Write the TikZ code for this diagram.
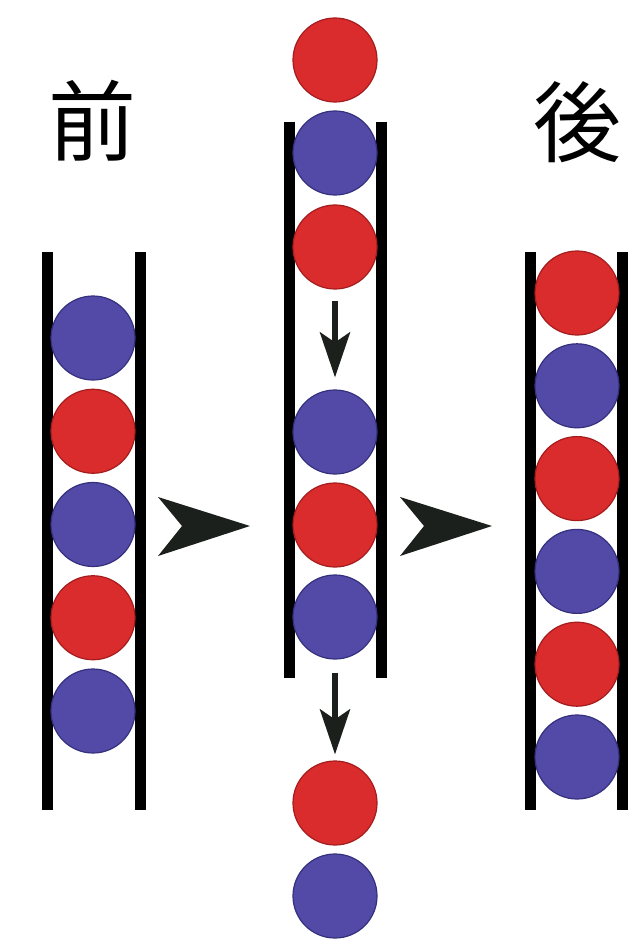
\documentclass[tikz,border=0pt]{standalone}
\usepackage{fontspec}
\newfontfamily\jpfont{Noto Sans CJK JP}
\usetikzlibrary{arrows.meta}
\definecolor{ballR}{RGB}{218,44,44}
\definecolor{ballRd}{RGB}{165,28,30}
\definecolor{ballB}{RGB}{82,74,166}
\definecolor{ballBd}{RGB}{52,48,125}
\definecolor{arrK}{RGB}{28,32,28}
\tikzset{
  rball/.style={circle,fill=ballR,draw=ballRd,line width=1.2pt,minimum size=84pt,inner sep=0pt},
  bball/.style={circle,fill=ballB,draw=ballBd,line width=1.2pt,minimum size=84pt,inner sep=0pt},
  wall/.style={line width=11pt,black},
  dn/.style={-{Stealth[length=45pt,width=30pt,inset=10pt]},line width=6pt,arrK},
  lbl/.style={font={\jpfont\fontsize{88pt}{88pt}\selectfont},inner sep=0pt}
}
\begin{document}
\begin{tikzpicture}[x=1pt,y=-1pt]
\useasboundingbox (0,0) rectangle (642,949);
% labels
\node[lbl] (before) at (92,121) {前};
\node[lbl] (after) at (577,122) {後};
% tube walls
\draw[wall] (47,252) -- (47,810);
\draw[wall] (140,252) -- (140,810);
\draw[wall] (289,122) -- (289,678);
\draw[wall] (381,122) -- (381,678);
\draw[wall] (530,252) -- (530,810);
\draw[wall] (622,252) -- (622,810);
% left tube
\foreach \s [count=\k] in {bball,rball,bball,rball,bball}
  \node[\s] (l\k) at (93,{338+93.25*(\k-1)}) {};
% middle tube
\foreach \s/\y [count=\k] in {rball/60,bball/153,rball/247,bball/432,rball/525,bball/617,rball/803,bball/896}
  \node[\s] (m\k) at (335,\y) {};
% right tube
\foreach \s [count=\k] in {rball,bball,rball,bball,rball,bball}
  \node[\s] (r\k) at (577,{293+92.8*(\k-1)}) {};
% moving down
\draw[dn,shorten <=11pt,shorten >=12pt] (m3) -- (m4);
\draw[dn,shorten <=13pt,shorten >=6pt] (m6) -- (m7);
% big arrowheads
\foreach \x in {158,400}
  \fill[arrK] (\x,497) -- (\x+92,526) -- (\x,556) -- (\x+24,526) -- cycle;
\end{tikzpicture}
\end{document}
